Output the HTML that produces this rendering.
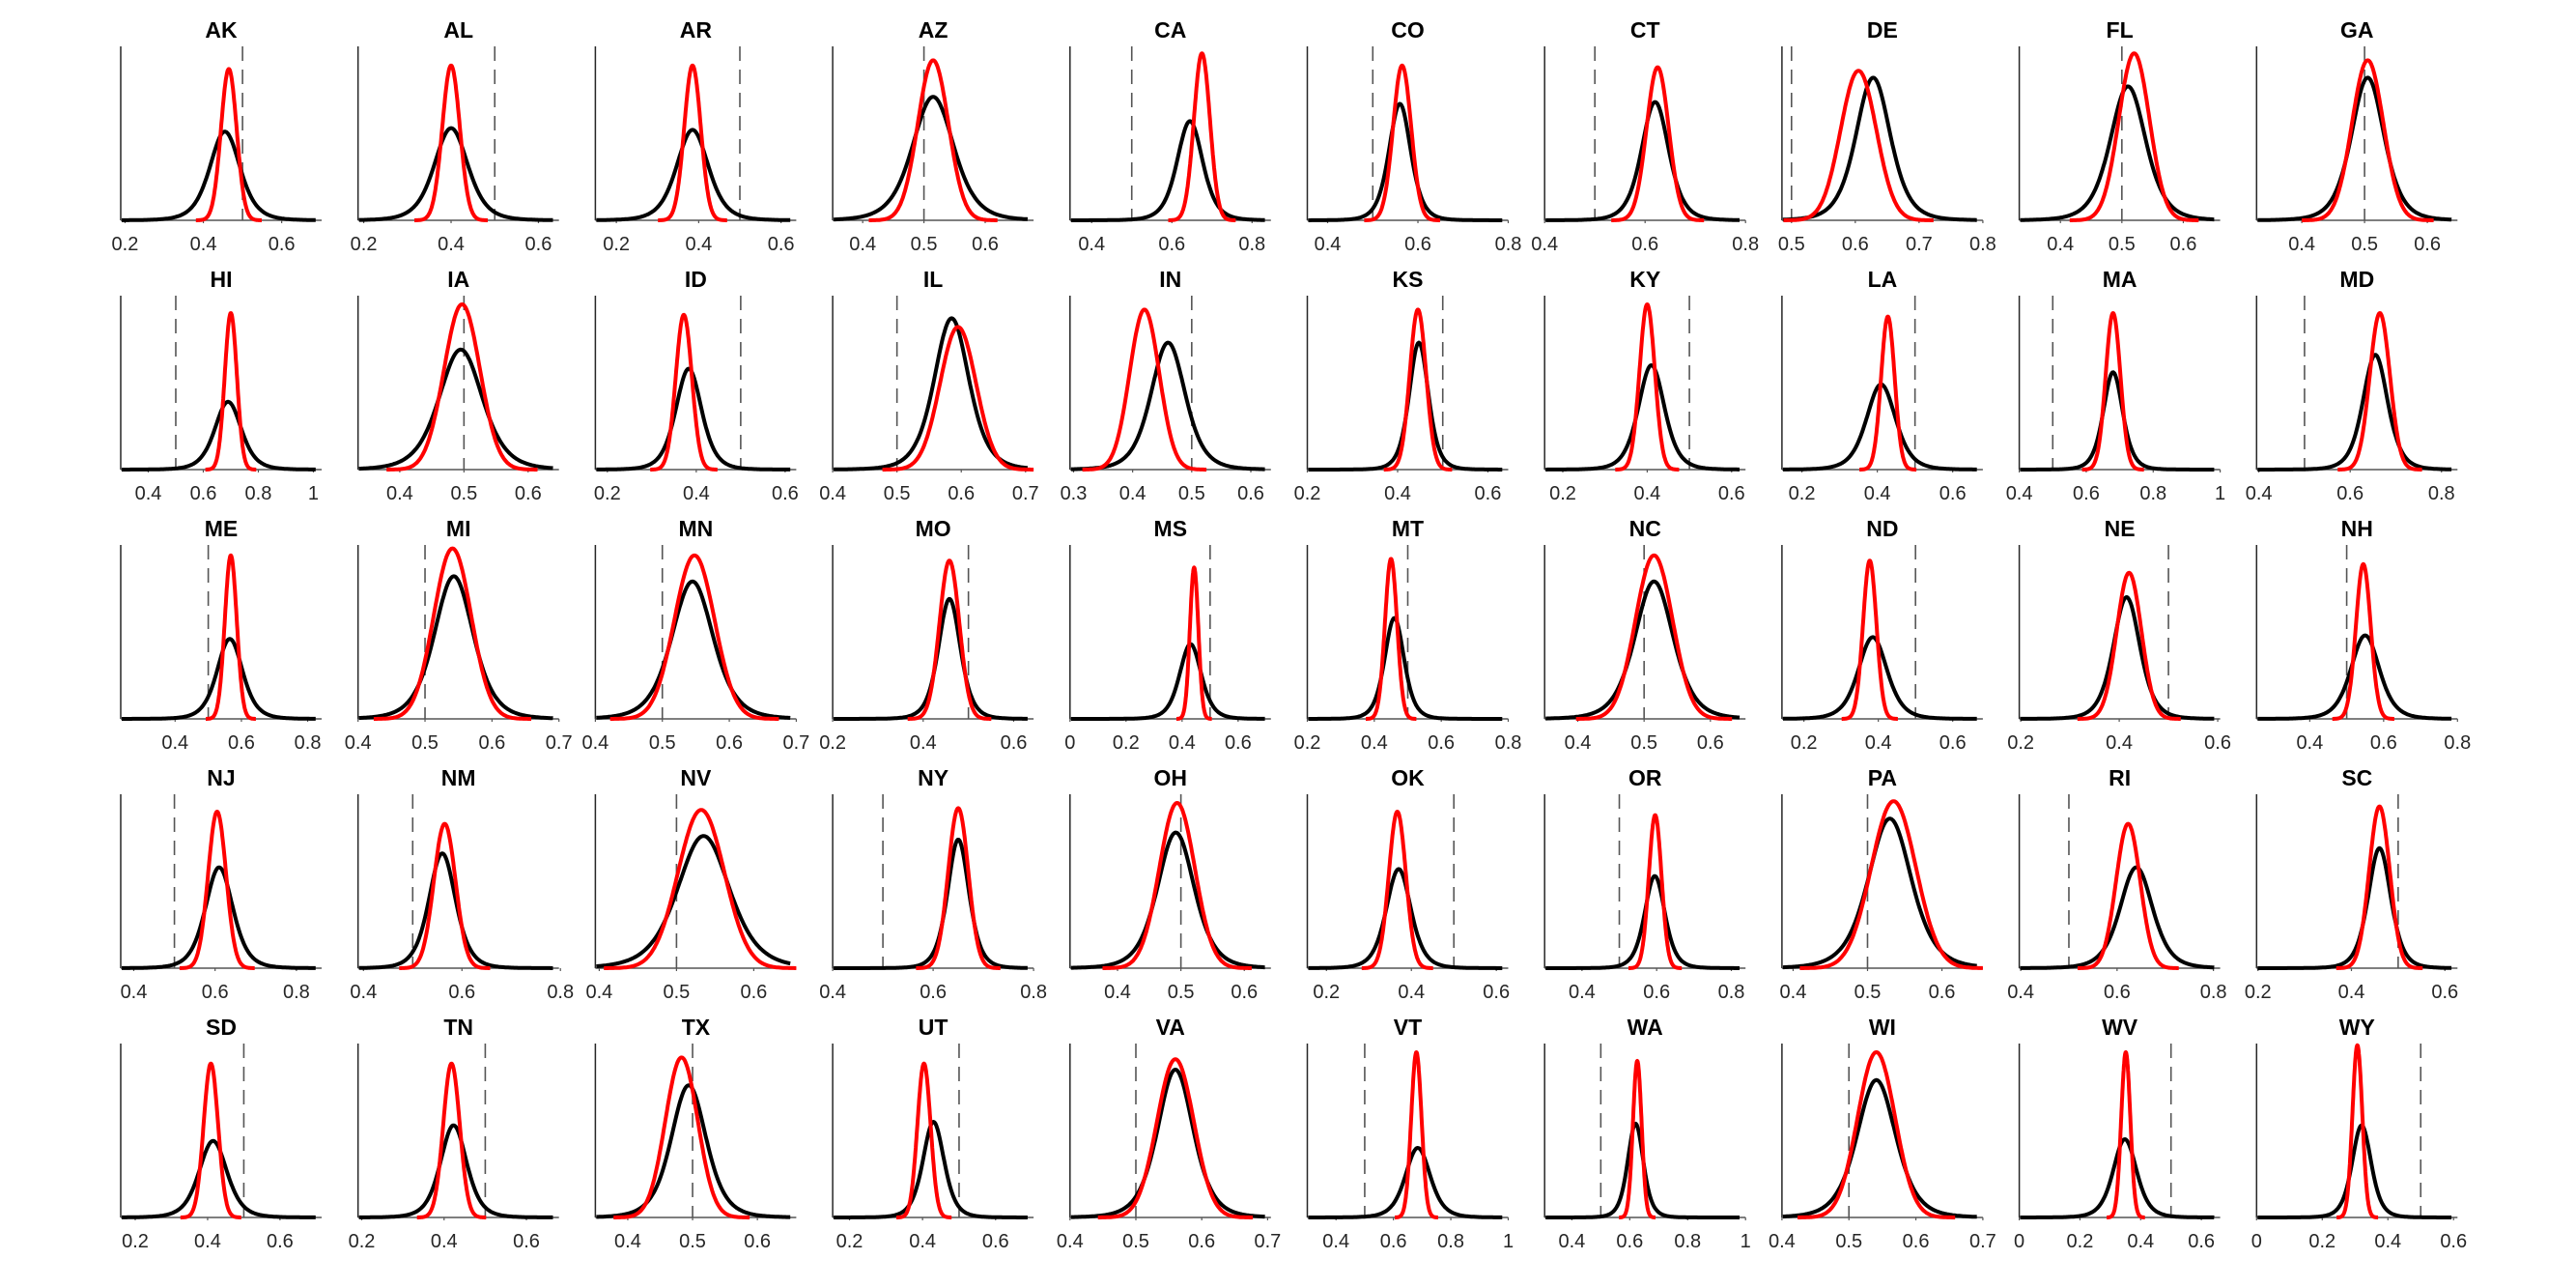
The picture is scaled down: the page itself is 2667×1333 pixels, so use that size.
<!DOCTYPE html>
<html>
<head>
<meta charset="utf-8">
<style>
  html,body{margin:0;padding:0;background:#fff;}
  svg{display:block;}
  text{font-family:"Liberation Sans",Arial,sans-serif;}
</style>
</head>
<body>
<svg id="chart" width="2667" height="1333" viewBox="0 0 2667 1333" xmlns="http://www.w3.org/2000/svg">
  <rect x="0" y="0" width="2667" height="1333" fill="#ffffff"/>
</svg>
<script>
const states = ["AK","AL","AR","AZ","CA","CO","CT","DE","FL","GA",
  "HI","IA","ID","IL","IN","KS","KY","LA","MA","MD",
  "ME","MI","MN","MO","MS","MT","NC","ND","NE","NH",
  "NJ","NM","NV","NY","OH","OK","OR","PA","RI","SC",
  "SD","TN","TX","UT","VA","VT","WA","WI","WV","WY"];
const xMin = [0.189,0.187,0.149,0.351,0.346,0.355,0.40,0.485,0.333,0.328,
  0.30,0.335,0.173,0.40,0.294,0.20,0.157,0.147,0.40,0.395,
  0.236,0.40,0.40,0.20,0.0,0.20,0.35,0.141,0.197,0.256,
  0.368,0.389,0.395,0.40,0.325,0.155,0.30,0.385,0.397,0.197,
  0.16,0.191,0.35,0.154,0.40,0.30,0.306,0.40,0.0,0.0];
const xMax = [0.702,0.647,0.637,0.679,0.847,0.80,0.80,0.80,0.66,0.648,
  1.03,0.648,0.625,0.7125,0.634,0.645,0.633,0.68,1.0,0.835,
  0.842,0.70,0.70,0.644,0.717,0.80,0.653,0.681,0.605,0.80,
  0.862,0.797,0.655,0.80,0.642,0.628,0.838,0.655,0.814,0.627,
  0.715,0.679,0.66,0.704,0.705,1.0,1.0,0.70,0.662,0.612];
const tickStep = [0.2,0.2,0.2,0.1,0.2,0.2,0.2,0.1,0.1,0.1,
  0.2,0.1,0.2,0.1,0.1,0.2,0.2,0.2,0.2,0.2,
  0.2,0.1,0.1,0.2,0.2,0.2,0.1,0.2,0.2,0.2,
  0.2,0.2,0.1,0.2,0.1,0.2,0.2,0.1,0.2,0.2,
  0.2,0.2,0.1,0.2,0.1,0.2,0.2,0.1,0.2,0.2];
const redMean = [0.465,0.40,0.385,0.515,0.675,0.565,0.625,0.605,0.52,0.505,
  0.70,0.497,0.372,0.595,0.42,0.445,0.40,0.428,0.68,0.665,
  0.568,0.541,0.548,0.458,0.443,0.45,0.515,0.377,0.42,0.545,
  0.605,0.565,0.532,0.65,0.494,0.367,0.596,0.535,0.623,0.46,
  0.409,0.418,0.483,0.404,0.56,0.68,0.626,0.541,0.351,0.307];
const redSd = [0.02,0.02,0.02,0.025,0.02,0.02,0.022,0.028,0.025,0.025,
  0.022,0.028,0.018,0.028,0.025,0.018,0.018,0.018,0.022,0.022,
  0.018,0.028,0.03,0.022,0.015,0.018,0.028,0.018,0.025,0.02,
  0.022,0.022,0.03,0.02,0.028,0.02,0.017,0.03,0.025,0.022,
  0.02,0.02,0.025,0.018,0.028,0.018,0.015,0.028,0.015,0.015];
const redPeak = [0.87,0.89,0.89,0.92,0.96,0.89,0.88,0.86,0.96,0.92,
  0.90,0.95,0.89,0.82,0.92,0.92,0.95,0.88,0.90,0.90,
  0.94,0.98,0.94,0.91,0.87,0.92,0.94,0.91,0.84,0.89,
  0.90,0.83,0.91,0.92,0.95,0.90,0.88,0.96,0.83,0.93,
  0.885,0.885,0.92,0.885,0.91,0.95,0.90,0.95,0.95,0.99];
const blackMean = [0.455,0.40,0.385,0.515,0.645,0.56,0.62,0.628,0.51,0.505,
  0.69,0.495,0.383,0.585,0.46,0.447,0.41,0.41,0.68,0.655,
  0.565,0.543,0.545,0.458,0.43,0.46,0.515,0.385,0.415,0.55,
  0.61,0.56,0.535,0.65,0.492,0.37,0.595,0.53,0.64,0.46,
  0.415,0.423,0.494,0.43,0.56,0.685,0.62,0.541,0.348,0.32];
const blackSd = [0.04,0.04,0.04,0.035,0.033,0.025,0.028,0.028,0.03,0.027,
  0.05,0.035,0.03,0.028,0.03,0.022,0.032,0.04,0.03,0.028,
  0.04,0.03,0.032,0.025,0.04,0.03,0.03,0.04,0.028,0.04,
  0.035,0.028,0.035,0.022,0.03,0.03,0.028,0.03,0.035,0.025,
  0.04,0.033,0.028,0.03,0.028,0.045,0.028,0.03,0.04,0.03];
const blackPeak = [0.51,0.53,0.52,0.71,0.57,0.67,0.68,0.82,0.77,0.82,
  0.39,0.69,0.58,0.87,0.73,0.73,0.60,0.49,0.56,0.66,
  0.46,0.82,0.79,0.69,0.43,0.58,0.79,0.47,0.70,0.48,
  0.58,0.66,0.76,0.74,0.78,0.57,0.53,0.86,0.58,0.69,
  0.44,0.53,0.76,0.55,0.85,0.40,0.54,0.79,0.45,0.53];
const refLine = 0.5;

const svg = document.getElementById('chart');
const NS = 'http://www.w3.org/2000/svg';
const COLS = 10, AX_L0 = 125, COL_DX = 245.7, AX_W = 208;
const AX_T0 = 48, ROW_DY = 258, AX_H = 180;

function mk(tag, attrs){
  const e = document.createElementNS(NS, tag);
  for (const k in attrs) e.setAttribute(k, attrs[k]);
  return e;
}
function fmt(v){
  if (Math.abs(v) < 1e-9) return '0';
  if (Math.abs(v-1) < 1e-9) return '1';
  return v.toFixed(1);
}

states.forEach((st, i) => {
  const c = i % COLS, r = Math.floor(i / COLS);
  const L = AX_L0 + c*COL_DX, T = AX_T0 + r*ROW_DY, B = T + AX_H;
  const lo = xMin[i], hi = xMax[i];
  const sx = v => L + (v - lo) / (hi - lo) * AX_W;
  const sy = f => B - f * AX_H;

  const g = mk('g', {});
  
  
  svg.appendChild(g);

  const title = mk('text', {x: L + AX_W/2, y: T - 9, 'text-anchor':'middle', 'font-size':'23', 'font-weight':'bold', fill:'#000'});
  title.textContent = st;
  
  
  g.appendChild(title);

  const yax = mk('line', {x1:L, y1:T, x2:L, y2:B, stroke:'#262626', 'stroke-width':'1.5'});
  
  
  g.appendChild(yax);
  const xax = mk('line', {x1:L, y1:B, x2:L+AX_W, y2:B, stroke:'#555', 'stroke-width':'1.5'});
  
  
  g.appendChild(xax);

  const step = tickStep[i];
  for (let k = Math.ceil((lo - 0.005)/step); k*step <= hi + 0.006; k++) {
    const v = k*step, x = sx(v);
    const tk = mk('line', {x1:x, y1:B, x2:x, y2:B+3, stroke:'#555', 'stroke-width':'1.2'});
    
    
    g.appendChild(tk);
    const tl = mk('text', {x:x, y:B+31, 'text-anchor':'middle', 'font-size':'20', fill:'#262626'});
    tl.textContent = fmt(v);
    
    
    g.appendChild(tl);
  }

  const dx = sx(refLine);
  const dl = mk('line', {x1:dx, y1:T, x2:dx, y2:B, stroke:'#555', 'stroke-width':'1.6', 'stroke-dasharray':'15 9'});
  
  
  g.appendChild(dl);

  let pb = [];
  const bs = lo + 0.005*(hi-lo), be = hi - 0.03*(hi-lo);
  for (let n = 0; n <= 200; n++) {
    const v = bs + (be-bs)*n/200;
    const z = (v - blackMean[i]) / blackSd[i];
    const f = blackPeak[i] * Math.pow(1 + z*z/5, -3);
    pb.push(sx(v).toFixed(1) + ',' + sy(f).toFixed(1));
  }
  const blk = mk('polyline', {points: pb.join(' '), fill:'none', stroke:'#000', 'stroke-width':'4', 'stroke-linejoin':'round'});
  
  
  g.appendChild(blk);

  let pr = [];
  const rs = Math.max(lo, redMean[i] - 4.2*redSd[i]), re = Math.min(hi, redMean[i] + 4.2*redSd[i]);
  for (let n = 0; n <= 160; n++) {
    const v = rs + (re-rs)*n/160;
    const z = (v - redMean[i]) / redSd[i];
    const f = redPeak[i] * Math.exp(-0.5*z*z);
    pr.push(sx(v).toFixed(1) + ',' + sy(f).toFixed(1));
  }
  const red = mk('polyline', {points: pr.join(' '), fill:'none', stroke:'#ff0000', 'stroke-width':'4', 'stroke-linejoin':'round'});
  
  
  g.appendChild(red);
});
</script>
</body>
</html>
